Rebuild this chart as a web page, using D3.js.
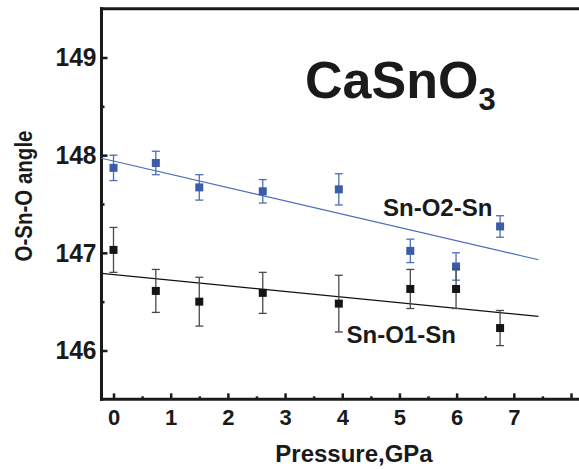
<!DOCTYPE html>
<html>
<head>
<meta charset="utf-8">
<script src="https://cdn.jsdelivr.net/npm/d3@7"></script>
<style>
  html, body { margin: 0; padding: 0; background: #fff; }
  svg { display: block; }
  text { font-family: "Liberation Sans", Arial, Helvetica, sans-serif; font-weight: bold; fill: #1a1a1a; }
</style>
</head>
<body>
<svg id="chart" width="579" height="469"></svg>
<script>
// ---- data ----
const pressures = [0, 0.74, 1.5, 2.61, 3.94, 5.19, 5.99, 6.76];
const o2Angle = [147.87, 147.92, 147.67, 147.63, 147.65, 147.02, 146.86, 147.27];
const o2Err   = [0.13, 0.12, 0.13, 0.12, 0.16, 0.12, 0.14, 0.11];
const o1Angle = [147.03, 146.61, 146.50, 146.59, 146.48, 146.63, 146.63, 146.23];
const o1Err   = [0.23, 0.22, 0.25, 0.21, 0.29, 0.20, 0.20, 0.18];
const fitRange = [-0.21, 7.43];
const o2Fit = [147.94, -0.136];   // intercept, slope
const o1Fit = [146.777, -0.0575]; // intercept, slope
const xTicks = [0, 1, 2, 3, 4, 5, 6, 7, 8];
const xTickLabels = ["0", "1", "2", "3", "4", "5", "6", "7", ""];
const xMinor = [0.5, 1.5, 2.5, 3.5, 4.5, 5.5, 6.5, 7.5];
const yTicks = [146, 147, 148, 149];
const yMinor = [146.5, 147.5, 148.5];
const xDomain = [-0.21, 8.2];
const yDomain = [145.5, 149.5];

// ---- scales ----
const svg = d3.select("#chart");
const x = d3.scaleLinear().domain([0, 8]).range([113.5, 571]);
const y = d3.scaleLinear().domain([146, 149]).range([350.5, 57.5]);

const blue = "#3b5ca8";
const blueErr = "#4d6fb8";
const black = "#151515";
const blackErr = "#4a4a4a";

// ---- axes ----
const gx = svg.append("g").attr("transform", `translate(0,${y(yDomain[0])})`);
gx.call(d3.axisBottom(x).tickValues(xTicks).tickFormat((d, i) => xTickLabels[i])
  .tickSizeInner(-6).tickSizeOuter(0).tickPadding(10));
gx.append("g").call(d3.axisBottom(x).tickValues(xMinor).tickFormat("").tickSizeInner(-3).tickSizeOuter(0));
gx.selectAll(".domain").remove();
gx.selectAll("line").attr("stroke", "#1a1a1a").attr("stroke-width", 2.5);
gx.selectAll("text").style("font-size", "22px").attr("fill", "#1a1a1a");

const gy = svg.append("g").attr("transform", `translate(${x(xDomain[0])},0)`);
gy.call(d3.axisLeft(y).tickValues(yTicks).tickFormat(d3.format("d"))
  .tickSizeInner(-6).tickSizeOuter(0).tickPadding(5));
gy.append("g").call(d3.axisLeft(y).tickValues(yMinor).tickFormat("").tickSizeInner(-3).tickSizeOuter(0));
gy.selectAll(".domain").remove();
gy.selectAll("line").attr("stroke", "#1a1a1a").attr("stroke-width", 2.5);
gy.selectAll("text").style("font-size", "26.5px").attr("fill", "#1a1a1a")
  .attr("textLength", 41).attr("lengthAdjust", "spacingAndGlyphs");

// frame lines (left, bottom, top)
const frame = svg.append("g").attr("stroke", "#1a1a1a").attr("stroke-width", 3).attr("fill", "none");
frame.append("line").attr("x1", x(xDomain[0])).attr("x2", x(xDomain[0]))
  .attr("y1", y(yDomain[1]) - 1.5).attr("y2", y(yDomain[0]) + 1.5);
frame.append("line").attr("x1", x(xDomain[0]) - 1.5).attr("x2", x(xDomain[1]))
  .attr("y1", y(yDomain[0])).attr("y2", y(yDomain[0]));
frame.append("line").attr("x1", x(xDomain[0]) - 1.5).attr("x2", x(xDomain[1]))
  .attr("y1", y(yDomain[1])).attr("y2", y(yDomain[1]));

// ---- fit lines ----
function fitLine(fit, color, w) {
  const pts = fitRange.map(p => [x(p), y(fit[0] + fit[1] * p)]);
  svg.append("path").attr("d", d3.line()(pts)).attr("stroke", color).attr("stroke-width", w).attr("fill", "none");
}
fitLine(o2Fit, "#4a6cbc", 1.1);
fitLine(o1Fit, "#111", 1.2);

// ---- error bars & points ----
function series(vals, errs, color, errColor) {
  const g = svg.append("g");
  pressures.forEach((p, i) => {
    const cx = x(p), t = y(vals[i] + errs[i]), b = y(vals[i] - errs[i]);
    g.append("line").attr("x1", cx).attr("x2", cx).attr("y1", t).attr("y2", b)
      .attr("stroke", errColor).attr("stroke-width", 1.3);
    [t, b].forEach(yy => g.append("line").attr("x1", cx - 4).attr("x2", cx + 4)
      .attr("y1", yy).attr("y2", yy).attr("stroke", errColor).attr("stroke-width", 1.3));
  });
  g.selectAll("rect").data(pressures).enter().append("rect")
    .attr("x", d => x(d) - 4).attr("y", (d, i) => y(vals[i]) - 4)
    .attr("width", 8).attr("height", 8).attr("fill", color);
}
series(o2Angle, o2Err, blue, blueErr);
series(o1Angle, o1Err, black, blackErr);

// ---- texts ----
const title = svg.append("text").attr("x", 305).attr("y", 98).style("font-size", "52px");
title.append("tspan").text("CaSnO");
title.append("tspan").attr("dy", 12).style("font-size", "31px").text("3");

svg.append("text").attr("x", 383).attr("y", 216).style("font-size", "24px").text("Sn-O2-Sn");
svg.append("text").attr("x", 346.5).attr("y", 343).style("font-size", "24px").text("Sn-O1-Sn");

svg.append("text").attr("x", 354).attr("y", 462).attr("text-anchor", "middle")
  .style("font-size", "24px").text("Pressure,GPa");
svg.append("text").attr("transform", "translate(32,196) rotate(-90)").attr("text-anchor", "middle")
  .style("font-size", "23px").attr("textLength", 131).attr("lengthAdjust", "spacingAndGlyphs")
  .text("O-Sn-O angle");
</script>
</body>
</html>
